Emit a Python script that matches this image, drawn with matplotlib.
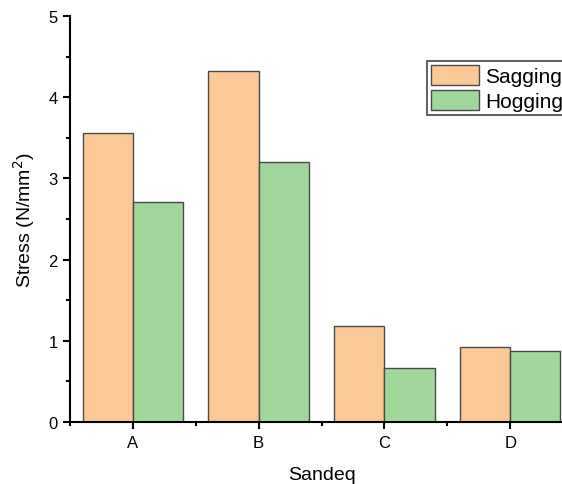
import numpy as np
import matplotlib.pyplot as plt
from matplotlib.ticker import MultipleLocator

plt.rcParams['font.family'] = ['Liberation Sans', 'DejaVu Sans']

groups = ['A', 'B', 'C', 'D']
sagging = [3.56, 4.32, 1.18, 0.92]
hogging = [2.71, 3.20, 0.665, 0.88]

x = np.arange(len(groups))
width = 0.4

fig = plt.figure(figsize=(5.62, 4.85), dpi=100)
ax = fig.add_axes([0.1246, 0.1278, 0.895, 0.837])

ax.bar(x - width / 2, sagging, width, color='#FCC896', edgecolor='#4a4a4a', linewidth=1, label='Sagging')
ax.bar(x + width / 2, hogging, width, color='#A0D89B', edgecolor='#4a4a4a', linewidth=1, label='Hogging')

ax.set_xlim(-0.5, 3.5)
ax.set_ylim(0, 5)
ax.set_xticks(x)
ax.set_xticklabels(groups)
ax.xaxis.set_minor_locator(MultipleLocator(0.5))
ax.yaxis.set_major_locator(MultipleLocator(1))
ax.yaxis.set_minor_locator(MultipleLocator(0.5))

for s in ['top', 'right']:
    ax.spines[s].set_visible(False)
for s in ['left', 'bottom']:
    ax.spines[s].set_linewidth(1.5)
ax.tick_params(which='major', direction='out', length=5, width=1.5, labelsize=12, pad=4)
ax.tick_params(which='minor', direction='out', length=3, width=1.5)

ax.set_xlabel('Sandeq', fontsize=14, labelpad=12)
ax.set_ylabel('Stress (N/mm$^2$)', fontsize=14, labelpad=8)

leg = fig.legend(loc='upper left', bbox_to_anchor=(0.760, 0.872), borderaxespad=0,
                 fontsize=15, handlelength=2.3, handleheight=1.05, labelspacing=0.2,
                 borderpad=0.2, handletextpad=0.3, fancybox=False, framealpha=1,
                 edgecolor='#444444')
leg.get_frame().set_linewidth(1.2)

fig.savefig('out.png', dpi=100)
